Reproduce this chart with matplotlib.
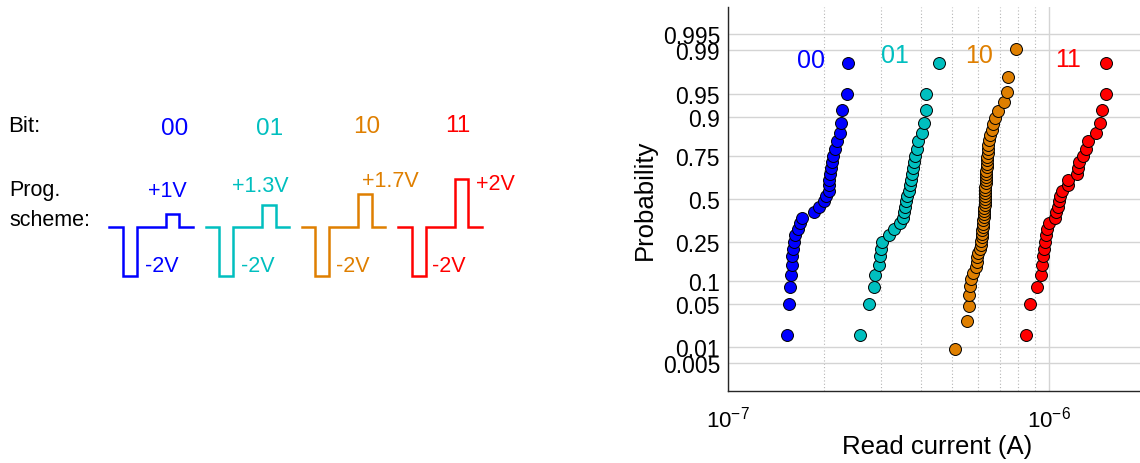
import matplotlib
matplotlib.use('Agg')
import matplotlib.pyplot as plt
from matplotlib.ticker import LogLocator, NullFormatter
from statistics import NormalDist

plt.rcParams['font.family'] = ['Liberation Sans', 'DejaVu Sans']
plt.rcParams['mathtext.fontset'] = 'custom'
plt.rcParams['mathtext.rm'] = 'Liberation Sans'
plt.rcParams['mathtext.it'] = 'Liberation Sans:italic'

# data
bits = ['00', '01', '10', '11']
colors = ['#0000FF', '#00BFBF', '#DF7F00', '#FF0000']
set_labels = ['+1V', '+1.3V', '+1.7V', '+2V']
reset_label = '-2V'
set_pulse = [0.55, 0.9, 1.37, 1.97]   # drawn (schematic) height of the set pulse
reset_pulse = -2.0

# read current, units of 1e-7 A
current_00 = [1.53, 1.55, 1.56, 1.58, 1.59, 1.59, 1.60, 1.61, 1.62, 1.66, 1.68, 1.70,
              1.85, 1.93, 1.99, 2.03, 2.06, 2.07, 2.07, 2.08, 2.09, 2.11, 2.13, 2.16,
              2.19, 2.24, 2.25, 2.27, 2.35, 2.36]
current_01 = [2.58, 2.75, 2.86, 2.87, 2.96, 2.98, 2.99, 3.01, 3.18, 3.30, 3.44, 3.52,
              3.54, 3.56, 3.59, 3.62, 3.65, 3.69, 3.72, 3.75, 3.78, 3.80, 3.83, 3.87,
              3.90, 4.01, 4.09, 4.13, 4.14, 4.55]
current_10 = [5.09, 5.56, 5.63, 5.64, 5.67, 5.71, 5.80, 5.90, 5.95, 5.97, 6.01, 6.09,
              6.12, 6.13, 6.16, 6.17, 6.19, 6.21, 6.22, 6.23, 6.25, 6.26, 6.27, 6.28,
              6.29, 6.30, 6.30, 6.31, 6.32, 6.32, 6.33, 6.34, 6.35, 6.35, 6.36, 6.37,
              6.38, 6.39, 6.40, 6.41, 6.43, 6.45, 6.46, 6.48, 6.54, 6.62, 6.69, 6.78,
              6.91, 7.23, 7.37, 7.42, 7.86]
current_11 = [8.46, 8.71, 9.13, 9.42, 9.50, 9.53, 9.62, 9.69, 9.74, 9.85, 9.99, 10.41,
              10.50, 10.61, 10.69, 10.79, 10.92, 11.40, 11.45, 12.16, 12.24, 12.36, 12.74,
              12.96, 13.15, 13.96, 14.36, 14.60, 14.99, 15.00]
currents = [current_00, current_01, current_10, current_11]

prob_ticks = [0.005, 0.01, 0.05, 0.1, 0.25, 0.5, 0.75, 0.9, 0.95, 0.99, 0.995]
prob_labels = ['0.005', '0.01', '0.05', '0.1', '0.25', '0.5', '0.75', '0.9', '0.95', '0.99', '0.995']

W, H = 1140, 464
fig = plt.figure(figsize=(W / 100, H / 100), dpi=100)

def fx(px):
    return px / W

def fy(py):
    return 1 - py / H

# ---- left: programming scheme ----
base_px, px_per_v = 228.0, 24.25
ax0 = fig.add_axes([0, 0, 1, 1])
ax0.set_xlim(0, W)
ax0.set_ylim((base_px - H) / px_per_v, base_px / px_per_v)
ax0.axis('off')

starts = [109.3, 206.0, 301.7, 398.3]
seg = [0, 13.3, 13.3, 27.2, 27.2, 56.2, 56.2, 70.0, 70.0, 83.3]
for k in range(4):
    xs = [starts[k] + s for s in seg]
    ys = [0, 0, reset_pulse, reset_pulse, 0, 0, set_pulse[k], set_pulse[k], 0, 0]
    ax0.plot(xs, ys, color=colors[k], lw=1.8, solid_joinstyle='miter')

fig.text(fx(8), fy(131.7), 'Bit:', fontsize=16, ha='left', va='baseline')
fig.text(fx(9), fy(196), 'Prog.', fontsize=15.5, ha='left', va='baseline')
fig.text(fx(9), fy(225.7), 'scheme:', fontsize=15.5, ha='left', va='baseline')

bit_pos = [(175, 135), (270, 135), (366.7, 133.3), (458, 131.7)]
set_pos = [(167, 196.7), (260.8, 191.7), (390.8, 186.7), (495, 190)]
reset_pos = [(162, 271.7), (257.5, 271.7), (352.5, 271.7), (449, 271.7)]
for k in range(4):
    fig.text(fx(bit_pos[k][0]), fy(bit_pos[k][1]), bits[k], color=colors[k],
             fontsize=17.5, ha='center', va='baseline')
    fig.text(fx(set_pos[k][0]), fy(set_pos[k][1]), set_labels[k], color=colors[k],
             fontsize=15.5, ha='center', va='baseline')
    fig.text(fx(reset_pos[k][0]), fy(reset_pos[k][1]), reset_label, color=colors[k],
             fontsize=15.5, ha='center', va='baseline')

# ---- right: normal probability plot ----
nd = NormalDist()
ax = fig.add_axes([fx(727.5), fy(391.5), (1146.3 - 727.5) / W, (391.5 - 8) / H])
ax.set_xscale('log')
ax.set_xlim(1e-7, 2e-6)
ax.set_ylim(-3, 3)

for k in range(4):
    vals = sorted(v * 1e-7 for v in currents[k])
    n = len(vals)
    z = [nd.inv_cdf((i + 0.5) / n) for i in range(n)]
    ax.scatter(vals, z, s=74, c=colors[k], edgecolors='black', linewidths=0.7, zorder=3)

ax.set_yticks([nd.inv_cdf(p) for p in prob_ticks])
ax.set_yticklabels(prob_labels)
ax.set_xticks([1e-7, 1e-6])
ax.set_xticklabels([r'$\mathregular{10^{-7}}$', r'$\mathregular{10^{-6}}$'])
ax.xaxis.set_minor_locator(LogLocator(base=10, subs=range(2, 10)))
ax.xaxis.set_minor_formatter(NullFormatter())

ax.grid(True, which='major', axis='both', color='#d4d4d4', lw=1)
ax.grid(True, which='minor', axis='x', color='#b4b4b4', lw=0.8, ls=(0, (1, 2)))
ax.set_axisbelow(True)
ax.tick_params(axis='both', which='both', length=0)
ax.tick_params(axis='y', labelsize=16.5, pad=5.4)
ax.tick_params(axis='x', labelsize=16, pad=11)
for side in ['top', 'right']:
    ax.spines[side].set_visible(False)
for side in ['left', 'bottom']:
    ax.spines[side].set_color('#262626')
    ax.spines[side].set_linewidth(1.0)

ax.set_xlabel('Read current (A)', fontsize=18.5)
ax.xaxis.set_label_coords(0.5, -0.113)
ax.set_ylabel('Probability', fontsize=18.5)
ax.yaxis.set_label_coords(-0.168, 0.5)

lbl_pos = [(811, 68.3), (895, 63.3), (979.3, 63.3), (1068.3, 66.7)]
for k in range(4):
    fig.text(fx(lbl_pos[k][0]), fy(lbl_pos[k][1]), bits[k], color=colors[k],
             fontsize=18, ha='center', va='baseline')

fig.savefig('out.png', dpi=100)
